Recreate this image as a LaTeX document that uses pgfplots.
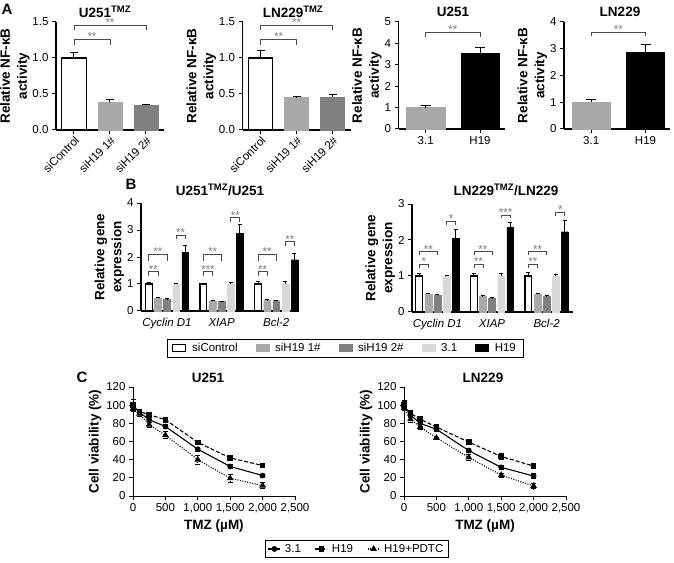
\documentclass[border=0pt]{standalone}
\usepackage{pgfplots}
\pgfplotsset{compat=1.18}
\usepackage{fontspec}
\setmainfont{Liberation Sans}
\definecolor{gA}{HTML}{A8A8A8}
\definecolor{gB}{HTML}{808080}
\definecolor{gC}{HTML}{D8D8D8}
\definecolor{brk}{HTML}{4A4A4A}
\definecolor{stc}{HTML}{7A7A7A}
\newcommand{\tk}{\fontsize{11.5}{13}\selectfont}
\newcommand{\lb}{\fontsize{13.5}{17}\selectfont\bfseries}
% x1, x2, xmid, ytop, ylow, text
\newcommand{\brkt}[6]{%
  \draw[brk, line width=0.7pt] (axis cs:#1,#5) -- (axis cs:#1,#4) -- (axis cs:#2,#4) -- (axis cs:#2,#5);
  \node[stc, font=\tk, anchor=base, inner sep=0pt, yshift=-1.5pt] at (axis cs:#3,#4) {#6};}
\pgfplotsset{
  prism/.style={
    scale only axis, anchor=south west, clip=false, enlargelimits=false,
    axis x line*=bottom, axis y line*=left,
    axis line style={line width=1.1pt,-},
    tick align=outside, major tick length=4pt,
    tick style={line width=1pt, black},
    tick label style={font=\tk},
    /pgf/number format/assume math mode=true,
    ylabel style={font=\lb, align=center}, ylabel shift=-4pt,
    xlabel style={font=\lb},
    ybar,
    error bars/y dir=plus, error bars/y explicit,
    error bars/error bar style={line width=1pt, black},
  },
  excel/.style={
    scale only axis, anchor=south west, clip=false, enlargelimits=false,
    axis x line*=bottom, axis y line*=left,
    axis line style={line width=0.8pt,-},
    tick align=outside, major tick length=4pt,
    tick style={line width=0.8pt, black},
    tick label style={font=\tk},
    /pgf/number format/assume math mode=true,
    ylabel style={font=\lb}, xlabel style={font=\lb},
    ylabel shift=-2pt,
    xmin=0, xmax=2500, ymin=0, ymax=120,
    xtick={0,500,1000,1500,2000,2500},
    xticklabels={0,500,{1,000},{1,500},{2,000},{2,500}},
    ytick={0,20,40,60,80,100,120},
    xlabel={TMZ (µM)}, ylabel={Cell viability (\%)},
    error bars/y dir=both, error bars/y explicit,
    error bars/error bar style={line width=0.8pt, black},
    error bars/error mark options={rotate=90, mark size=2.5pt, line width=0.8pt, black},
  },
  s31/.style={black, solid, line width=1.1pt, mark=*, mark size=2.3pt, mark options={solid}},
  sh19/.style={black, dash pattern=on 4pt off 2pt, line width=1.1pt, mark=square*, mark size=2.3pt, mark options={solid}},
  spd/.style={black, dash pattern=on 1pt off 1.5pt, line width=1.1pt, mark=triangle*, mark size=2.8pt, mark options={solid}},
}
\begin{document}
\begin{tikzpicture}
\useasboundingbox (0,0) rectangle (674pt,562pt);
% panel letters and titles
\node[font=\fontsize{15}{17}\selectfont\bfseries] at (7pt,553pt) {A};
\node[font=\fontsize{15}{17}\selectfont\bfseries] at (131pt,378pt) {B};
\node[font=\fontsize{15}{17}\selectfont\bfseries] at (82pt,185pt) {C};
\node[font=\lb] at (105pt,550pt) {U251\textsuperscript{TMZ}};
\node[font=\lb] at (293pt,550pt) {LN229\textsuperscript{TMZ}};
\node[font=\lb] at (453pt,550pt) {U251};
\node[font=\lb] at (620pt,550pt) {LN229};
\node[font=\lb] at (220pt,372pt) {U251\textsuperscript{TMZ}/U251};
\node[font=\lb] at (506pt,372pt) {LN229\textsuperscript{TMZ}/LN229};
\node[font=\lb] at (208pt,184pt) {U251};
\node[font=\lb] at (483pt,184pt) {LN229};

% ---------- A1 ----------
\begin{axis}[prism, at={(56pt,432pt)}, width=108pt, height=108pt,
  xmin=-0.5, xmax=2.5, ymin=0, ymax=1.5, ytick={0,0.5,1,1.5},
  yticklabel style={/pgf/number format/.cd, fixed, fixed zerofill, precision=1},
  xtick={0,1,2}, xticklabels={siControl,siH19 1\#,siH19 2\#},
  xticklabel style={rotate=45, anchor=north east, inner sep=1pt},
  bar width=0.67, ylabel={Relative NF-κB\\activity},
  error bars/error mark options={rotate=90, mark size=4pt, line width=1pt, black}]
\addplot[bar shift=0pt, draw=black, fill=white, line width=1.1pt] coordinates {(0,1.0) +- (0,0.07)};
\addplot[bar shift=0pt, draw=gA, fill=gA] coordinates {(1,0.39) +- (0,0.03)};
\addplot[bar shift=0pt, draw=gB, fill=gB] coordinates {(2,0.35) +- (0,0.01)};
\brkt{0}{1}{0.5}{1.26}{1.18}{**}
\brkt{0}{2}{1}{1.46}{1.39}{**}
\end{axis}

% ---------- A2 ----------
\begin{axis}[prism, at={(242.5pt,432pt)}, width=108pt, height=108pt,
  xmin=-0.5, xmax=2.5, ymin=0, ymax=1.5, ytick={0,0.5,1,1.5},
  yticklabel style={/pgf/number format/.cd, fixed, fixed zerofill, precision=1},
  xtick={0,1,2}, xticklabels={siControl,siH19 1\#,siH19 2\#},
  xticklabel style={rotate=45, anchor=north east, inner sep=1pt},
  bar width=0.67, ylabel={Relative NF-κB\\activity},
  error bars/error mark options={rotate=90, mark size=4pt, line width=1pt, black}]
\addplot[bar shift=0pt, draw=black, fill=white, line width=1.1pt] coordinates {(0,1.0) +- (0,0.1)};
\addplot[bar shift=0pt, draw=gA, fill=gA] coordinates {(1,0.45) +- (0,0.02)};
\addplot[bar shift=0pt, draw=gB, fill=gB] coordinates {(2,0.46) +- (0,0.03)};
\brkt{0}{1}{0.5}{1.26}{1.18}{**}
\brkt{0}{2}{1}{1.46}{1.39}{**}
\end{axis}

% ---------- A3 ----------
\begin{axis}[prism, at={(398.5pt,433pt)}, width=106pt, height=107pt,
  xmin=-0.5, xmax=1.45, ymin=0, ymax=5, ytick={0,1,2,3,4,5},
  xtick={0,1}, xticklabels={3.1,H19},
  bar width=0.7, ylabel={Relative NF-κB\\activity},
  error bars/error mark options={rotate=90, mark size=5pt, line width=1pt, black}]
\addplot[bar shift=0pt, draw=gA, fill=gA] coordinates {(0,1.0) +- (0,0.08)};
\addplot[bar shift=0pt, draw=black, fill=black] coordinates {(1,3.55) +- (0,0.25)};
\brkt{0}{1}{0.5}{4.52}{4.31}{**}
\end{axis}

% ---------- A4 ----------
\begin{axis}[prism, at={(564pt,433pt)}, width=106pt, height=107pt,
  xmin=-0.5, xmax=1.45, ymin=0, ymax=4, ytick={0,1,2,3,4},
  xtick={0,1}, xticklabels={3.1,H19},
  bar width=0.7, ylabel={Relative NF-κB\\activity},
  error bars/error mark options={rotate=90, mark size=5pt, line width=1pt, black}]
\addplot[bar shift=0pt, draw=gA, fill=gA] coordinates {(0,1.0) +- (0,0.1)};
\addplot[bar shift=0pt, draw=black, fill=black] coordinates {(1,2.87) +- (0,0.28)};
\brkt{0}{1}{0.5}{3.61}{3.48}{**}
\end{axis}

% ---------- B1 ----------
\begin{axis}[prism, at={(141pt,251pt)}, width=158pt, height=108pt,
  xmin=-0.86, xmax=16.5, ymin=0, ymax=4, ytick={0,1,2,3,4},
  xtick={2,8,14}, xticklabels={Cyclin D1,XIAP,Bcl-2},
  xticklabel style={font=\tk\itshape}, x tick style={draw=none},
  bar width=0.75, ylabel={Relative gene\\expression},
  error bars/error mark options={rotate=90, mark size=2pt, line width=1pt, black},
  area legend,
  legend image code/.code={\draw[#1] (0pt,-3.5pt) rectangle (13pt,3.5pt);},
  legend style={at={(1.291,-0.343)}, anchor=center, legend columns=5,
    draw=black, line width=0.6pt, font=\tk, inner ysep=2pt, inner xsep=5pt,
    /tikz/every odd column/.append style={column sep=4pt},
    /tikz/every even column/.append style={column sep=16pt}}]
\addplot[bar shift=0pt, draw=black, fill=white, line width=1.1pt] coordinates {(0,1.0) +- (0,0.05) (6,1.0) +- (0,0.03) (12,1.0) +- (0,0.08)};
\addplot[bar shift=0pt, draw=gA, fill=gA] coordinates {(1,0.48) +- (0,0.03) (7,0.38) +- (0,0.02) (13,0.40) +- (0,0.02)};
\addplot[bar shift=0pt, draw=gB, fill=gB] coordinates {(2,0.43) +- (0,0.02) (8,0.35) +- (0,0.02) (14,0.38) +- (0,0.02)};
\addplot[bar shift=0pt, draw=gC, fill=gC] coordinates {(3,1.0) +- (0,0.03) (9,1.0) +- (0,0.04) (15,1.0) +- (0,0.08)};
\addplot[bar shift=0pt, draw=black, fill=black] coordinates {(4,2.18) +- (0,0.25) (10,2.88) +- (0,0.33) (16,1.9) +- (0,0.22)};
\legend{siControl,siH19 1\#,siH19 2\#,3.1,H19}
\brkt{0}{1}{0.5}{1.46}{1.31}{**}
\brkt{0}{2}{1}{2.1}{1.85}{**}
\brkt{3}{4}{3.5}{2.81}{2.65}{**}
\brkt{6}{7}{6.5}{1.46}{1.31}{***}
\brkt{6}{8}{7}{2.1}{1.85}{**}
\brkt{9}{10}{9.5}{3.46}{3.31}{**}
\brkt{12}{13}{12.5}{1.46}{1.31}{**}
\brkt{12}{14}{13}{2.1}{1.85}{**}
\brkt{15}{16}{15.5}{2.57}{2.41}{**}
\end{axis}

% ---------- B2 ----------
\begin{axis}[prism, at={(412pt,250pt)}, width=161pt, height=108pt,
  xmin=-0.8, xmax=16.9, ymin=0, ymax=3, ytick={0,1,2,3},
  xtick={2,8,14}, xticklabels={Cyclin D1,XIAP,Bcl-2},
  xticklabel style={font=\tk\itshape}, x tick style={draw=none},
  bar width=0.75, ylabel={Relative gene\\expression},
  error bars/error mark options={rotate=90, mark size=2pt, line width=1pt, black}]
\addplot[bar shift=0pt, draw=black, fill=white, line width=1.1pt] coordinates {(0,1.0) +- (0,0.08) (6,1.0) +- (0,0.07) (12,1.0) +- (0,0.1)};
\addplot[bar shift=0pt, draw=gA, fill=gA] coordinates {(1,0.5) +- (0,0.02) (7,0.43) +- (0,0.02) (13,0.5) +- (0,0.02)};
\addplot[bar shift=0pt, draw=gB, fill=gB] coordinates {(2,0.47) +- (0,0.02) (8,0.38) +- (0,0.02) (14,0.43) +- (0,0.02)};
\addplot[bar shift=0pt, draw=gC, fill=gC] coordinates {(3,1.0) +- (0,0.02) (9,1.0) +- (0,0.06) (15,1.0) +- (0,0.05)};
\addplot[bar shift=0pt, draw=black, fill=black] coordinates {(4,2.05) +- (0,0.25) (10,2.35) +- (0,0.13) (16,2.23) +- (0,0.3)};
\brkt{0}{1}{0.5}{1.32}{1.21}{*}
\brkt{0}{2}{1}{1.68}{1.58}{**}
\brkt{3}{4}{3.5}{2.53}{2.42}{*}
\brkt{6}{7}{6.5}{1.32}{1.21}{**}
\brkt{6}{8}{7}{1.68}{1.58}{**}
\brkt{9}{10}{9.5}{2.69}{2.6}{***}
\brkt{12}{13}{12.5}{1.32}{1.21}{**}
\brkt{12}{14}{13}{1.68}{1.58}{**}
\brkt{15}{16}{15.5}{2.77}{2.68}{*}
\end{axis}

% ---------- C1 ----------
\begin{axis}[excel, at={(133pt,66pt)}, width=162pt, height=109pt,
  legend image code/.code={\draw[mark repeat=2, mark phase=2, #1] plot coordinates {(0pt,0pt) (6pt,0pt) (12pt,0pt)};},
  legend style={at={(1.38,-0.486)}, anchor=center, legend columns=3,
    draw=black, line width=0.6pt, font=\tk, inner ysep=1.5pt,
    /tikz/every odd column/.append style={column sep=2pt},
    /tikz/every even column/.append style={column sep=12pt}}]
\addplot[s31] coordinates {(0,100) +- (0,3) (100,92) +- (0,2) (250,84) +- (0,3) (500,76.5) +- (0,2) (1000,51.5) +- (0,2) (1500,32.5) +- (0,2) (2000,22.5) +- (0,1.5)};
\addplot[sh19] coordinates {(0,100) +- (0,6) (100,93) +- (0,2) (250,89.5) +- (0,3) (500,84) +- (0,1.5) (1000,59) +- (0,1.5) (1500,42) +- (0,1.5) (2000,33.5) +- (0,1.5)};
\addplot[spd] coordinates {(0,96) +- (0,3) (100,90.5) +- (0,3) (250,78.5) +- (0,3) (500,67) +- (0,4) (1000,40) +- (0,5) (1500,19.5) +- (0,4) (2000,11.5) +- (0,3)};
\legend{3.1,H19,H19+PDTC}
\end{axis}

% ---------- C2 ----------
\begin{axis}[excel, at={(404pt,66pt)}, width=162pt, height=109pt]
\addplot[s31] coordinates {(0,100) +- (0,5) (100,89) +- (0,3) (250,80) +- (0,3) (500,73.5) +- (0,2) (1000,50) +- (0,2) (1500,31.5) +- (0,2) (2000,22) +- (0,3)};
\addplot[sh19] coordinates {(0,100) +- (0,4) (100,91) +- (0,2) (250,84.5) +- (0,2) (500,76) +- (0,1.5) (1000,59.3) +- (0,1.5) (1500,43.5) +- (0,3) (2000,33) +- (0,1.5)};
\addplot[spd] coordinates {(0,97) +- (0,3) (100,84.5) +- (0,3) (250,76) +- (0,3) (500,64) +- (0,1) (1000,42.5) +- (0,3) (1500,23) +- (0,2) (2000,11) +- (0,3)};
\end{axis}
\end{tikzpicture}
\end{document}
